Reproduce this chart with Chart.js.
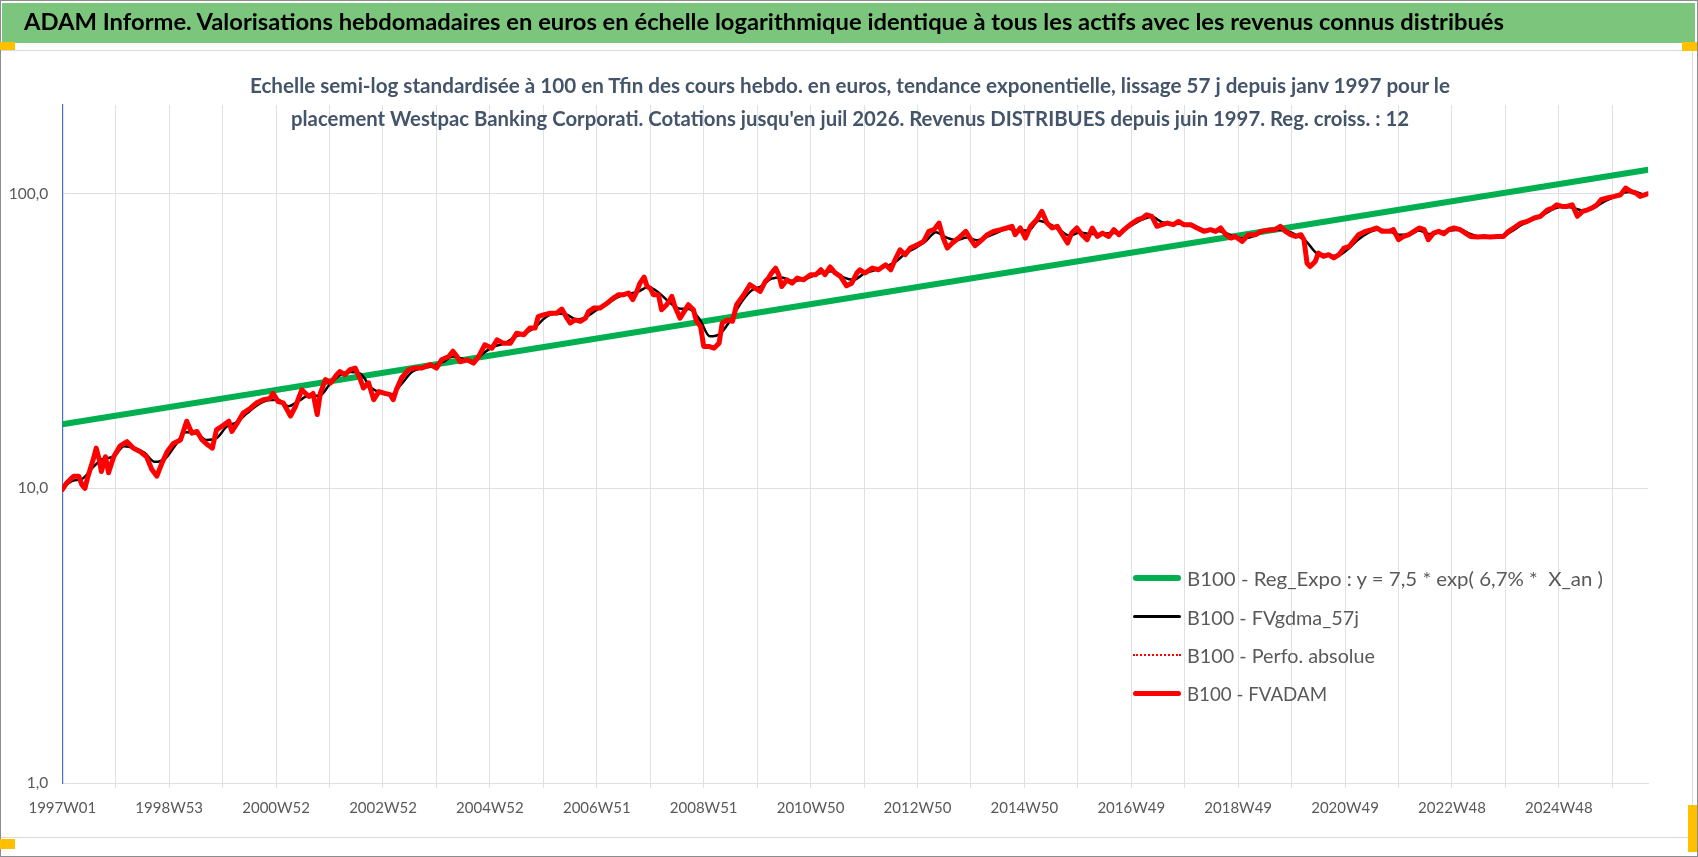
<!DOCTYPE html>
<html lang="fr"><head><meta charset="utf-8">
<title>ADAM Informe</title>
<script src="https://cdn.jsdelivr.net/npm/chart.js@4.4.1/dist/chart.umd.min.js"></script>
<style>
html,body{margin:0;padding:0;background:#fff;width:1698px;height:857px;overflow:hidden;}
#page{position:relative;width:1698px;height:857px;}
.abs{position:absolute;}
#outer{left:0;top:0;width:1698px;height:857px;box-sizing:border-box;border:1px solid #8c8c8c;}
#band{left:2px;top:3px;width:1693px;height:40px;background:#7cc57c;}
#inner{left:1px;top:50px;width:1692px;height:788px;box-sizing:border-box;border:1px solid #dadada;border-left:none;}
.yl{position:absolute;background:#ffc000;}
.t{position:absolute;white-space:pre;transform-origin:0 50%;line-height:30px;height:30px;}
#title{left:24px;top:8px;font:bold 22.5px Lato, sans-serif;color:#000;}
#sub1{left:250px;top:73px;font:bold 20px Lato, sans-serif;color:#44546a;}
#sub2{left:291px;top:106px;font:bold 20px Lato, sans-serif;color:#44546a;}
#chart{position:absolute;left:0;top:0;}
.lg{position:absolute;left:1187px;font:20px Lato, sans-serif;color:#595959;white-space:pre;line-height:30px;height:30px;transform-origin:0 50%;}
.ls{position:absolute;left:1133px;width:48px;}
</style>
</head>
<body>
<div id="page">
  <div id="outer" class="abs"></div>
  <div id="band" class="abs"></div>
  <div id="inner" class="abs"></div>
  <canvas id="chart" width="1698" height="857"></canvas>
  <div id="title" class="t">ADAM Informe. Valorisations hebdomadaires en euros en échelle logarithmique identique à tous les actifs avec les revenus connus distribués</div>
  <div id="sub1" class="t">Echelle semi-log standardisée à 100 en Tfin des cours hebdo. en euros, tendance exponentielle, lissage 57 j depuis janv 1997 pour le</div>
  <div id="sub2" class="t">placement Westpac Banking Corporati. Cotations jusqu'en juil 2026. Revenus DISTRIBUES depuis juin 1997. Reg. croiss. : 12</div>

  <div class="ls" style="top:575px;height:6px;background:#00b050;border-radius:3px;"></div>
  <div class="lg" id="lg1" style="top:563px;">B100 - Reg_Expo : y = 7,5 * exp( 6,7% *  X_an )</div>
  <div class="ls" style="top:615px;height:3px;background:#000;border-radius:2px;"></div>
  <div class="lg" id="lg2" style="top:602px;">B100 - FVgdma_57j</div>
  <div class="ls" style="top:654px;height:0;border-top:2px dotted #ff0000;"></div>
  <div class="lg" id="lg3" style="top:640px;">B100 - Perfo. absolue</div>
  <div class="ls" style="top:691px;height:5px;background:#ff0000;border-radius:3px;"></div>
  <div class="lg" id="lg4" style="top:678px;">B100 - FVADAM</div>

  <div class="yl" style="left:0;top:42px;width:15px;height:8px;"></div>
  <div class="yl" style="left:0;top:839px;width:15px;height:10px;"></div>
  <div class="yl" style="left:1682px;top:42px;width:15px;height:9px;"></div>
  <div class="yl" style="left:1688px;top:805px;width:9px;height:47px;"></div>
</div>
<script>
// ---------------- DATA ----------------
const weekTickLabels = ['1997W01','1998W53','2000W52','2002W52','2004W52','2006W51','2008W51','2010W50','2012W50','2014W50','2016W49','2018W49','2020W49','2022W48','2024W48'];

// FVADAM (week index since 1997W01, value base 100 at end)
const fvadamWeeks = [0,4,11,16,19,22,25,30,33,36,38,42,45,50,56,63,69,76,82,87,92,97,102,108,115,121,126,131,136,142,146,150,157,162,165,170,176,183,189,196,202,205,210,215,222,227,233,240,244,248,251,256,261,267,270,275,280,285,290,293,298,303,308,314,319,322,325,330,337,343,350,358,364,369,376,380,384,
387,394,400,405,411,418,423,429,436,442,449,455,460,463,468,475,481,486,491,494,499,504,509,512,517,523,530,536,541,546,551,555,559,562,566,569,572,575,580,583,588,593,596,601,605,609,614,617,621,624,629,634,639,642,647,652,656,663,669,674,679,684,687,690,694,697,700,705,710,715,721,728,733,738,742,747,752,757,763,768,773,776,
781,788,794,801,806,811,815,820,825,832,838,843,848,853,857,861,866,872,879,884,888,893,900,906,913,919,924,927,932,937,942,948,953,958,963,968,973,978,982,987,992,997,1002,1007,1012,1018,1023,1028,1033,1039,1046,1051,1055,1060,1065,1070,1075,1081,1086,1091,1098,1104,1111,1117,1122,1127,1132,1137,1141,1148,1154,1161,1166,
1172,1180,1185,1190,1195,1200,1205,1208,1211,1214,1219,1222,1227,1232,1237,1242,1247,1252,1256,1261,1268,1274,1279,1284,1291,1295,1300,1305,1310,1315,1320,1325,1329,1334,1339,1344,1349,1354,1360,1365,1370,1377,1383,1389,1396,1402,1407,1412,1419,1425,1432,1438,1445,1450,1454,1459,1464,1469,1474,1479,1484,1488,1493,1497,1503,1510,1516,1521,1526,1531,1535,1540,1543];
const fvadamValues = [9.9,10.4,11.0,11.0,10.3,10.0,11.0,12.5,13.7,12.5,11.4,12.8,11.3,12.8,13.9,14.4,13.7,13.3,12.8,11.6,11.0,12.2,13.3,14.2,14.6,16.9,15.4,15.6,14.6,14.0,13.7,15.8,16.4,16.9,15.6,16.6,18.0,18.7,19.5,20.0,20.2,21.0,19.7,19.5,17.6,19.0,21.6,20.5,21.0,17.8,21.0,23.4,22.8,24.3,24.9,24.3,25.3,25.6,23.4,21.9,22.8,20.0,21.3,21.0,20.8,20.0,21.6,23.7,25.3,25.6,25.6,26.3,25.6,27.3,28.0,29.2,28.0,
26.9,27.3,26.6,28.0,30.7,29.9,31.9,31.1,31.1,33.6,33.2,35.0,35.0,38.3,38.8,39.3,39.3,40.6,37.8,36.4,37.3,36.9,37.8,39.8,40.9,40.9,42.5,44.2,45.4,45.4,46.0,43.7,46.6,49.7,52.1,48.4,47.8,45.4,45.4,40.4,42.0,44.8,41.4,37.8,39.8,42.0,40.4,36.9,35.4,30.3,30.3,29.9,31.1,36.4,37.3,36.9,42.0,45.4,49.1,47.8,46.6,50.4,51.7,53.8,55.9,53.1,48.4,51.0,49.7,51.7,51.0,53.1,53.1,55.2,53.1,56.4,53.8,52.4,48.7,49.7,53.8,55.2,
53.8,55.9,55.2,57.4,55.2,60.5,64.5,62.1,65.4,67.1,68.9,74.5,75.5,79.5,70.7,65.4,68.0,70.7,74.5,69.8,66.6,68.9,72.6,74.5,75.5,76.5,77.5,72.6,76.5,70.7,77.5,81.6,87.1,79.5,76.5,77.5,72.6,68.0,73.5,76.5,72.6,69.8,76.5,71.6,73.5,71.6,75.5,72.6,75.5,78.5,81.6,82.7,84.8,83.8,77.5,78.5,79.5,78.5,80.5,78.5,78.5,76.5,74.5,75.5,74.5,76.5,72.6,70.7,71.6,68.9,72.6,72.6,74.5,
75.1,75.5,77.5,74.5,72.6,71.6,72.6,69.8,58.1,56.6,58.9,62.9,61.3,62.1,60.5,62.1,65.4,66.2,68.9,72.6,74.5,75.5,76.5,74.5,74.5,75.5,69.8,71.6,72.6,74.5,76.5,75.5,69.8,73.5,74.5,73.1,75.5,76.5,75.5,73.5,71.6,71.3,71.6,71.3,71.6,71.6,74.5,76.5,79.5,80.5,82.7,83.8,88.2,89.4,91.7,90.5,90.5,91.7,83.8,87.1,88.2,89.4,91.7,95.4,96.7,97.9,99.2,104.5,101.8,100.5,97.9,99.2,100.0];

// FVgdma_57j (smoothed)
const gdmaWeeks = [0,10,20,30,40,50,60,70,80,90,100,110,120,130,140,150,160,170,180,190,200,210,220,230,240,250,260,270,280,290,300,310,320,330,340,350,360,370,380,390,400,410,420,430,440,450,460,470,480,490,500,510,520,530,540,550,560,570,580,590,600,610,620,630,640,650,660,670,680,690,700,710,720,730,740,750,760,770,780,790,800,810,820,830,840,850,860,870,880,890,900,910,920,930,940,950,960,970,980,990,1000,1010,1020,1030,1040,1050,1060,1070,1080,1090,1100,1110,1120,1130,1140,1150,1160,1170,1180,1190,1200,1210,1220,1230,1240,1250,1260,1270,1280,1290,1300,1310,1320,1330,1340,1350,1360,1370,1380,1390,1400,1410,1420,1430,1440,1450,1460,1470,1480,1490,1500,1510,1520,1530,1540,1543];
const gdmaValues = [10.0,10.6,10.8,11.8,12.6,12.8,13.9,13.7,13.2,12.3,12.6,14.0,15.5,15.4,14.6,14.8,16.2,16.8,18.0,19.2,19.9,20.0,19.0,19.8,20.6,20.6,22.5,24.2,24.8,24.5,22.0,21.1,20.8,22.6,24.8,25.6,26.0,26.8,28.0,27.5,27.0,28.8,30.3,31.0,32.6,33.6,35.2,38.0,39.2,39.0,37.4,38.2,40.3,42.2,44.5,45.6,46.5,48.2,46.2,43.0,40.8,40.6,37.5,32.8,33.5,37.2,42.5,46.8,48.5,51.5,52.0,50.6,51.0,52.5,54.0,54.6,52.0,51.0,53.5,55.0,56.5,58.5,62.5,65.5,69.0,74.0,71.0,69.5,71.0,69.5,71.5,74.0,76.0,75.0,75.0,81.0,79.0,75.5,72.0,73.8,73.0,73.0,73.5,74.0,78.0,81.5,83.5,80.0,79.0,79.0,78.0,75.5,75.0,74.0,71.5,70.5,72.0,74.5,75.5,75.0,72.5,69.0,63.0,62.0,61.5,64.5,69.5,73.5,75.5,74.8,72.5,72.5,75.0,73.0,74.0,75.0,75.5,73.0,71.5,71.4,71.6,74.5,78.5,81.5,84.5,88.5,90.5,89.5,87.5,89.5,94.0,97.5,101.0,101.5,99.0,99.5];

// Reg_Expo (straight line on the log scale)
const regWeeks = [0,1543];
const regValues = [16.5,120.6];

const lastWeek = 1543;
const gridStepWeeks = 52;

// ---------------- CHART ----------------
const toPts = (xs, ys) => xs.map((x, i) => ({x: x, y: ys[i]}));
const gridCol = '#dde0e6';
const fontFam = 'Lato, "Open Sans", sans-serif';

new Chart(document.getElementById('chart').getContext('2d'), {
  type: 'line',
  data: {
    datasets: [
      {label: 'B100 - FVADAM', data: toPts(fvadamWeeks, fvadamValues), borderColor: '#ff0000', borderWidth: 5, pointRadius: 0, order: 0, borderJoinStyle: 'round', borderCapStyle: 'round'},
      {label: 'B100 - Perfo. absolue', data: toPts(fvadamWeeks, fvadamValues), borderColor: '#ff0000', borderWidth: 1.5, borderDash: [2, 2], pointRadius: 0, order: 1},
      {label: 'B100 - FVgdma_57j', data: toPts(gdmaWeeks, gdmaValues), borderColor: '#000000', borderWidth: 2.5, pointRadius: 0, order: 2, cubicInterpolationMode: 'monotone'},
      {label: 'B100 - Reg_Expo : y = 7,5 * exp( 6,7% *  X_an )', data: toPts(regWeeks, regValues), borderColor: '#00b050', borderWidth: 6, pointRadius: 0, order: 3}
    ]
  },
  options: {
    responsive: false,
    animation: false,
    events: [],
    layout: {padding: {left: 0, top: 105, right: 49.7, bottom: 0}},
    plugins: {legend: {display: false}, tooltip: {enabled: false}, title: {display: false}},
    scales: {
      x: {
        type: 'linear', min: 0, max: lastWeek,
        afterBuildTicks: (s) => {
          const t = [];
          for (let w = 0; w <= lastWeek; w += gridStepWeeks) t.push({value: w});
          s.ticks = t;
        },
        afterFit: (s) => { s.height = 74; },
        grid: {color: (c) => c.index === 0 ? 'rgba(0,0,0,0)' : gridCol, lineWidth: 1, drawTicks: true, tickLength: 5},
        border: {color: gridCol, width: 1},
        ticks: {
          autoSkip: false, maxRotation: 0, minRotation: 0, padding: 11,
          color: '#595959', font: {family: fontFam, size: 15},
          callback: (v, i) => (i % 2 === 0 ? (weekTickLabels[i / 2] || '') : '')
        }
      },
      y: {
        type: 'logarithmic', min: 1, max: 200,
        afterBuildTicks: (s) => { s.ticks = [1, 10, 100].map(v => ({value: v})); },
        afterFit: (s) => { s.width = 62.3; },
        grid: {color: gridCol, lineWidth: 1, drawTicks: false},
        border: {color: '#4472c4', width: 1.2},
        ticks: {
          padding: 14, color: '#595959', font: {family: fontFam, size: 15.5},
          callback: (v) => Number(v).toFixed(1).replace('.', ',')
        }
      }
    }
  }
});

// ---------------- TEXT FITTING ----------------
function fitWidth(id, target) {
  const el = document.getElementById(id);
  el.style.transform = 'none';
  const w = el.getBoundingClientRect().width;
  el.style.transform = 'scaleX(' + (target / w) + ')';
  return target / w;
}
fitWidth('title', 1480);
fitWidth('sub1', 1200);
fitWidth('sub2', 1118);
fitWidth('lg1', 416);
fitWidth('lg2', 172);
fitWidth('lg3', 188);
fitWidth('lg4', 140);
</script>
</body></html>
